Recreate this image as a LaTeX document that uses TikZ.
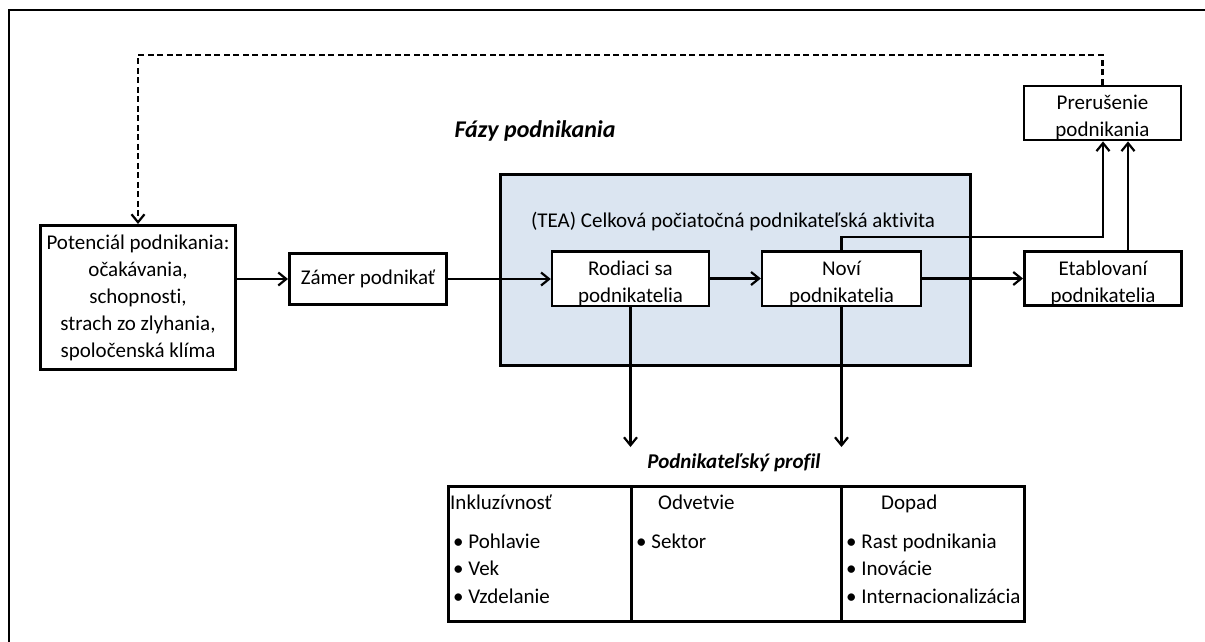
\documentclass[tikz,border=0pt]{standalone}
\usepackage{fontspec}
\setmainfont{Carlito}[Ligatures=NoCommon]
\usetikzlibrary{arrows.meta}
\definecolor{teablue}{HTML}{DBE5F1}
\newcommand{\lowr}{\rule{0pt}{24pt}}
\begin{document}
\begin{tikzpicture}[x=1pt,y=-1pt,
  txt/.style={font=\fontsize{21}{27}\selectfont},
  box/.style={draw, line width=3pt, fill=white, align=center, inner sep=0pt, txt},
  thinbox/.style={box, line width=2.4pt},
  arr/.style={line width=2.2pt, -{Straight Barb[length=8pt,width=13pt,line width=2.2pt]}},
  lbl/.style={txt, inner sep=0pt},
  ttl/.style={font=\fontsize{21}{27}\selectfont\bfseries\itshape, inner sep=0pt},
  cell/.style={draw, line width=3pt, minimum height=135pt, inner sep=0pt, anchor=north west},
  dashline/.style={line width=2.2pt, dash pattern=on 6pt off 3.5pt}
]
\useasboundingbox (0,0) rectangle (1205,641);
\draw[line width=2pt] (9,645) -- (9,9.5) -- (1210,9.5);

% main nodes
\node[box, minimum width=195pt, minimum height=144pt] (pot) at (138,297.5)
  {Potenciál podnikania:\\ očakávania,\\ schopnosti,\\ strach zo zlyhania,\\ spoločenská klíma};
\node[box, minimum width=157pt, minimum height=51pt] (zam) at (368,279) {Zámer podnikať};
\node[draw, line width=3pt, fill=teablue, minimum width=470pt, minimum height=191pt, inner sep=0pt] (tea) at (735.5,270) {};
\node[lbl] (tealbl) at (733,222) {(TEA) Celková počiatočná podnikateľská aktivita};
\node[thinbox, minimum width=157pt, minimum height=51pt] (rod) at (630.5,278.5) {\lowr Rodiaci sa\\ podnikatelia};
\node[thinbox, minimum width=159pt, minimum height=51pt] (nov) at (841.5,278.5) {\lowr Noví\\ podnikatelia};
\node[box, minimum width=157pt, minimum height=50pt] (eta) at (1103,278.5) {\lowr Etablovaní\\ podnikatelia};
\node[thinbox, minimum width=157pt, minimum height=50pt] (pre) at (1102.5,113) {\lowr Prerušenie\\ podnikania};

% titles
\node[ttl, font=\fontsize{24}{28}\selectfont\bfseries\itshape] (faz) at (535,131) {Fázy podnikania};
\node[ttl] (prof) at (734,463) {Podnikateľský profil};

% connectors
\draw[arr] (pot.east |- zam.west) -- (zam.west);
\draw[arr] (zam.east) -- (zam.east -| rod.west);
\draw[arr] (rod.east) -- (nov.west);
\draw[arr] (nov.east) -- (eta.west);

\coordinate (dtop) at (138,55);
\draw[dashline, -{Straight Barb[length=8pt,width=13pt,line width=2.2pt]}] (pre.north) |- (dtop) -- (pot.north);

\coordinate (nc) at (1103,237);
\draw[arr] (nov.north) |- (nc) -- (nc |- pre.south);
\coordinate (ea) at ([xshift=25pt]eta.north);
\draw[arr] (ea) -- (ea |- pre.south);

\coordinate (pt) at (0,447);
\draw[arr] (rod.south) -- (rod.south |- pt);
\draw[arr] (nov.south) -- (nov.south |- pt);

% profile table
\node[cell, minimum width=183pt] (c1) at (447,485) {};
\node[cell, minimum width=210pt] (c2) at (630,485) {};
\node[cell, minimum width=183pt] (c3) at (840,485) {};

\node[lbl, anchor=base west] (h1) at (450,509) {Inkluzívnosť};
\node[lbl, anchor=base west] (a1) at (453,548) {• Pohlavie};
\node[lbl, anchor=base west] (a2) at (453,575.5) {• Vek};
\node[lbl, anchor=base west] (a3) at (453,603) {• Vzdelanie};

\node[lbl, anchor=base west] (h2) at (658,509) {Odvetvie};
\node[lbl, anchor=base west] (b1) at (636,548) {• Sektor};

\node[lbl, anchor=base west] (h3) at (881,509) {Dopad};
\node[lbl, anchor=base west] (d1) at (846,548) {• Rast podnikania};
\node[lbl, anchor=base west] (d2) at (846,575.5) {• Inovácie};
\node[lbl, anchor=base west] (d3) at (846,603) {• Internacionalizácia};
\end{tikzpicture}
\end{document}
